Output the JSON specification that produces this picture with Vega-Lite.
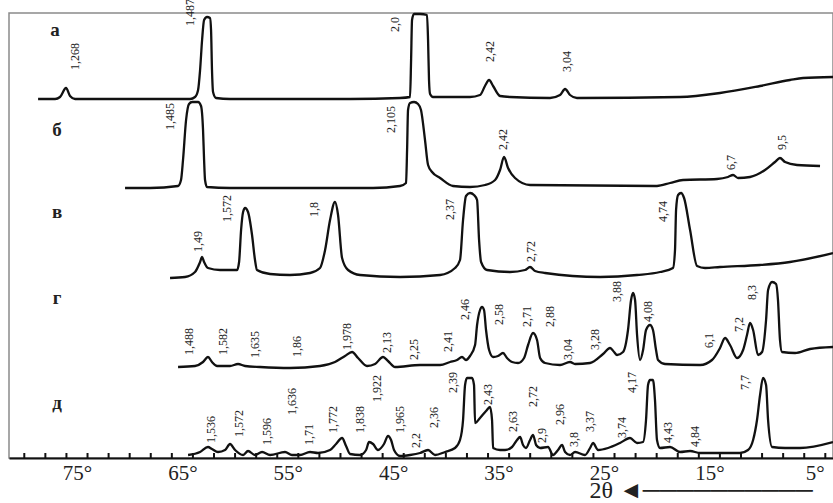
{
  "$schema": "https://vega.github.io/schema/vega-lite/v6.json",
  "width": 824,
  "height": 445,
  "autosize": {"type": "none"},
  "padding": {"left": 9, "top": 13, "right": 0, "bottom": 45},
  "background": "white",
  "config": {
    "view": {"stroke": "#8a8a8a", "strokeWidth": 1.5},
    "font": "Liberation Serif"
  },
  "datasets": {
    "traces": [
      {"s": "а", "t": 78.69, "i": 359}, {"s": "а", "t": 77.08, "i": 359}, {"s": "а", "t": 76.61, "i": 361},
      {"s": "а", "t": 76.04, "i": 370}, {"s": "а", "t": 75.66, "i": 362}, {"s": "а", "t": 75.18, "i": 359},
      {"s": "а", "t": 70.91, "i": 359}, {"s": "а", "t": 64.27, "i": 359}, {"s": "а", "t": 63.80, "i": 361},
      {"s": "а", "t": 63.51, "i": 368}, {"s": "а", "t": 63.32, "i": 388}, {"s": "а", "t": 63.13, "i": 418},
      {"s": "а", "t": 62.94, "i": 438}, {"s": "а", "t": 62.66, "i": 441}, {"s": "а", "t": 62.38, "i": 440},
      {"s": "а", "t": 62.28, "i": 428}, {"s": "а", "t": 62.19, "i": 388}, {"s": "а", "t": 62.09, "i": 366},
      {"s": "а", "t": 61.81, "i": 360}, {"s": "а", "t": 60.48, "i": 359}, {"s": "а", "t": 49.09, "i": 359},
      {"s": "а", "t": 44.35, "i": 360}, {"s": "а", "t": 43.40, "i": 361}, {"s": "а", "t": 43.30, "i": 398},
      {"s": "а", "t": 43.21, "i": 438}, {"s": "а", "t": 43.02, "i": 444}, {"s": "а", "t": 42.45, "i": 444},
      {"s": "а", "t": 41.79, "i": 443}, {"s": "а", "t": 41.69, "i": 418}, {"s": "а", "t": 41.60, "i": 378},
      {"s": "а", "t": 41.50, "i": 364}, {"s": "а", "t": 41.22, "i": 361}, {"s": "а", "t": 37.71, "i": 361},
      {"s": "а", "t": 36.76, "i": 363}, {"s": "а", "t": 36.29, "i": 372}, {"s": "а", "t": 35.90, "i": 378},
      {"s": "а", "t": 35.52, "i": 372}, {"s": "а", "t": 34.86, "i": 362}, {"s": "а", "t": 33.91, "i": 361},
      {"s": "а", "t": 30.12, "i": 360}, {"s": "а", "t": 29.17, "i": 363}, {"s": "а", "t": 28.69, "i": 369},
      {"s": "а", "t": 28.22, "i": 363}, {"s": "а", "t": 27.56, "i": 360}, {"s": "а", "t": 17.78, "i": 361},
      {"s": "а", "t": 13.99, "i": 365}, {"s": "а", "t": 10.19, "i": 372}, {"s": "а", "t": 7.35, "i": 378},
      {"s": "а", "t": 6.11, "i": 380}, {"s": "а", "t": 3.27, "i": 381},

      {"s": "б", "t": 70.44, "i": 270}, {"s": "б", "t": 68.07, "i": 270}, {"s": "б", "t": 65.41, "i": 272},
      {"s": "б", "t": 65.13, "i": 278}, {"s": "б", "t": 64.94, "i": 298}, {"s": "б", "t": 64.65, "i": 338},
      {"s": "б", "t": 64.37, "i": 354}, {"s": "б", "t": 64.08, "i": 356}, {"s": "б", "t": 63.51, "i": 356},
      {"s": "б", "t": 63.23, "i": 352}, {"s": "б", "t": 63.04, "i": 328}, {"s": "б", "t": 62.94, "i": 298},
      {"s": "б", "t": 62.85, "i": 278}, {"s": "б", "t": 62.66, "i": 271}, {"s": "б", "t": 60.48, "i": 270},
      {"s": "б", "t": 46.91, "i": 270}, {"s": "б", "t": 44.35, "i": 272}, {"s": "б", "t": 43.78, "i": 275},
      {"s": "б", "t": 43.68, "i": 308}, {"s": "б", "t": 43.59, "i": 348}, {"s": "б", "t": 43.40, "i": 355},
      {"s": "б", "t": 43.02, "i": 356}, {"s": "б", "t": 42.64, "i": 354}, {"s": "б", "t": 42.36, "i": 348},
      {"s": "б", "t": 41.98, "i": 318}, {"s": "б", "t": 41.69, "i": 293}, {"s": "б", "t": 41.31, "i": 286},
      {"s": "б", "t": 40.55, "i": 280}, {"s": "б", "t": 39.32, "i": 272}, {"s": "б", "t": 37.71, "i": 271},
      {"s": "б", "t": 36.28, "i": 273}, {"s": "б", "t": 35.33, "i": 278}, {"s": "б", "t": 34.86, "i": 288},
      {"s": "б", "t": 34.48, "i": 301}, {"s": "б", "t": 34.10, "i": 290}, {"s": "б", "t": 33.44, "i": 280},
      {"s": "б", "t": 32.01, "i": 273}, {"s": "б", "t": 19.97, "i": 272}, {"s": "б", "t": 18.73, "i": 275},
      {"s": "б", "t": 17.50, "i": 278}, {"s": "б", "t": 14.27, "i": 279}, {"s": "б", "t": 13.23, "i": 281},
      {"s": "б", "t": 12.75, "i": 283}, {"s": "б", "t": 12.28, "i": 280}, {"s": "б", "t": 11.14, "i": 281},
      {"s": "б", "t": 9.72, "i": 288}, {"s": "б", "t": 8.77, "i": 296}, {"s": "б", "t": 8.30, "i": 300},
      {"s": "б", "t": 7.82, "i": 296}, {"s": "б", "t": 6.68, "i": 293}, {"s": "б", "t": 4.50, "i": 292},

      {"s": "в", "t": 66.17, "i": 180}, {"s": "в", "t": 64.75, "i": 181}, {"s": "в", "t": 63.80, "i": 186},
      {"s": "в", "t": 63.32, "i": 196}, {"s": "в", "t": 63.13, "i": 201}, {"s": "в", "t": 62.94, "i": 196},
      {"s": "в", "t": 62.57, "i": 190}, {"s": "в", "t": 61.43, "i": 188}, {"s": "в", "t": 59.81, "i": 188},
      {"s": "в", "t": 59.62, "i": 196}, {"s": "в", "t": 59.43, "i": 228}, {"s": "в", "t": 59.24, "i": 246},
      {"s": "в", "t": 59.05, "i": 250}, {"s": "в", "t": 58.77, "i": 246}, {"s": "в", "t": 58.39, "i": 223},
      {"s": "в", "t": 58.11, "i": 198}, {"s": "в", "t": 57.92, "i": 188}, {"s": "в", "t": 56.68, "i": 184},
      {"s": "в", "t": 54.79, "i": 183}, {"s": "в", "t": 52.89, "i": 185}, {"s": "в", "t": 51.94, "i": 190},
      {"s": "в", "t": 51.46, "i": 208}, {"s": "в", "t": 50.99, "i": 238}, {"s": "в", "t": 50.52, "i": 256},
      {"s": "в", "t": 50.23, "i": 243}, {"s": "в", "t": 49.85, "i": 200}, {"s": "в", "t": 49.28, "i": 188},
      {"s": "в", "t": 48.14, "i": 183}, {"s": "в", "t": 44.35, "i": 181}, {"s": "в", "t": 40.55, "i": 183},
      {"s": "в", "t": 39.13, "i": 190}, {"s": "в", "t": 38.66, "i": 198}, {"s": "в", "t": 38.37, "i": 238},
      {"s": "в", "t": 38.09, "i": 262}, {"s": "в", "t": 37.71, "i": 265}, {"s": "в", "t": 37.33, "i": 263},
      {"s": "в", "t": 37.04, "i": 258}, {"s": "в", "t": 36.85, "i": 218}, {"s": "в", "t": 36.66, "i": 196},
      {"s": "в", "t": 36.09, "i": 188}, {"s": "в", "t": 33.91, "i": 186}, {"s": "в", "t": 32.49, "i": 188},
      {"s": "в", "t": 32.01, "i": 191}, {"s": "в", "t": 31.54, "i": 187}, {"s": "в", "t": 30.59, "i": 185},
      {"s": "в", "t": 25.37, "i": 181}, {"s": "в", "t": 21.86, "i": 183}, {"s": "в", "t": 19.68, "i": 186},
      {"s": "в", "t": 18.45, "i": 190}, {"s": "в", "t": 18.26, "i": 208}, {"s": "в", "t": 18.16, "i": 248},
      {"s": "в", "t": 17.97, "i": 263}, {"s": "в", "t": 17.69, "i": 265}, {"s": "в", "t": 17.40, "i": 260},
      {"s": "в", "t": 16.83, "i": 228}, {"s": "в", "t": 16.17, "i": 192}, {"s": "в", "t": 15.41, "i": 190},
      {"s": "в", "t": 13.99, "i": 191}, {"s": "в", "t": 10.19, "i": 193}, {"s": "в", "t": 7.35, "i": 196},
      {"s": "в", "t": 3.27, "i": 205},

      {"s": "г", "t": 65.41, "i": 91}, {"s": "г", "t": 63.80, "i": 92}, {"s": "г", "t": 63.04, "i": 96},
      {"s": "г", "t": 62.57, "i": 101}, {"s": "г", "t": 62.19, "i": 96}, {"s": "г", "t": 61.71, "i": 92},
      {"s": "г", "t": 60.48, "i": 92}, {"s": "г", "t": 59.72, "i": 94}, {"s": "г", "t": 59.05, "i": 92},
      {"s": "г", "t": 57.63, "i": 91}, {"s": "г", "t": 54.79, "i": 90}, {"s": "г", "t": 51.94, "i": 92},
      {"s": "г", "t": 50.52, "i": 96}, {"s": "г", "t": 49.57, "i": 102}, {"s": "г", "t": 48.90, "i": 106},
      {"s": "г", "t": 48.33, "i": 100}, {"s": "г", "t": 47.48, "i": 92}, {"s": "г", "t": 46.72, "i": 94},
      {"s": "г", "t": 45.96, "i": 101}, {"s": "г", "t": 45.49, "i": 97}, {"s": "г", "t": 44.82, "i": 91},
      {"s": "г", "t": 42.45, "i": 93}, {"s": "г", "t": 40.55, "i": 93}, {"s": "г", "t": 39.60, "i": 96},
      {"s": "г", "t": 38.94, "i": 98}, {"s": "г", "t": 38.47, "i": 101}, {"s": "г", "t": 38.09, "i": 98},
      {"s": "г", "t": 37.71, "i": 102}, {"s": "г", "t": 37.23, "i": 113}, {"s": "г", "t": 37.04, "i": 133},
      {"s": "г", "t": 36.76, "i": 148}, {"s": "г", "t": 36.57, "i": 151}, {"s": "г", "t": 36.38, "i": 148},
      {"s": "г", "t": 36.19, "i": 128}, {"s": "г", "t": 35.90, "i": 108}, {"s": "г", "t": 35.52, "i": 101},
      {"s": "г", "t": 35.05, "i": 102}, {"s": "г", "t": 34.58, "i": 105}, {"s": "г", "t": 34.20, "i": 100},
      {"s": "г", "t": 33.72, "i": 96}, {"s": "г", "t": 33.15, "i": 95}, {"s": "г", "t": 32.58, "i": 100},
      {"s": "г", "t": 32.20, "i": 113}, {"s": "г", "t": 31.73, "i": 125}, {"s": "г", "t": 31.35, "i": 118},
      {"s": "г", "t": 31.06, "i": 100}, {"s": "г", "t": 30.59, "i": 95}, {"s": "г", "t": 29.17, "i": 93},
      {"s": "г", "t": 28.22, "i": 96}, {"s": "г", "t": 27.74, "i": 94}, {"s": "г", "t": 26.32, "i": 95},
      {"s": "г", "t": 25.09, "i": 104}, {"s": "г", "t": 24.42, "i": 110}, {"s": "г", "t": 24.04, "i": 106},
      {"s": "г", "t": 23.76, "i": 103}, {"s": "г", "t": 23.19, "i": 106}, {"s": "г", "t": 22.72, "i": 128},
      {"s": "г", "t": 22.43, "i": 158}, {"s": "г", "t": 22.24, "i": 165}, {"s": "г", "t": 22.05, "i": 158},
      {"s": "г", "t": 21.86, "i": 123}, {"s": "г", "t": 21.58, "i": 98}, {"s": "г", "t": 21.29, "i": 108},
      {"s": "г", "t": 21.01, "i": 128}, {"s": "г", "t": 20.63, "i": 133}, {"s": "г", "t": 20.35, "i": 128},
      {"s": "г", "t": 20.06, "i": 108}, {"s": "г", "t": 19.87, "i": 98}, {"s": "г", "t": 19.21, "i": 94},
      {"s": "г", "t": 15.88, "i": 93}, {"s": "г", "t": 14.75, "i": 98}, {"s": "г", "t": 13.99, "i": 110},
      {"s": "г", "t": 13.51, "i": 120}, {"s": "г", "t": 13.04, "i": 113}, {"s": "г", "t": 12.37, "i": 100},
      {"s": "г", "t": 11.80, "i": 108}, {"s": "г", "t": 11.43, "i": 123}, {"s": "г", "t": 11.14, "i": 135},
      {"s": "г", "t": 10.85, "i": 128}, {"s": "г", "t": 10.38, "i": 103}, {"s": "г", "t": 10.00, "i": 106},
      {"s": "г", "t": 9.62, "i": 138}, {"s": "г", "t": 9.43, "i": 168}, {"s": "г", "t": 9.05, "i": 176},
      {"s": "г", "t": 8.67, "i": 174}, {"s": "г", "t": 8.49, "i": 158}, {"s": "г", "t": 8.30, "i": 118},
      {"s": "г", "t": 8.11, "i": 106}, {"s": "г", "t": 6.87, "i": 105}, {"s": "г", "t": 5.45, "i": 109},
      {"s": "г", "t": 3.27, "i": 111},

      {"s": "д", "t": 64.46, "i": 3}, {"s": "д", "t": 63.32, "i": 6}, {"s": "д", "t": 62.57, "i": 11},
      {"s": "д", "t": 62.19, "i": 9}, {"s": "д", "t": 61.62, "i": 6}, {"s": "д", "t": 60.95, "i": 8},
      {"s": "д", "t": 60.48, "i": 14}, {"s": "д", "t": 60.00, "i": 8}, {"s": "д", "t": 59.24, "i": 3},
      {"s": "д", "t": 58.77, "i": 7}, {"s": "д", "t": 58.11, "i": 3}, {"s": "д", "t": 57.44, "i": 6},
      {"s": "д", "t": 56.68, "i": 3}, {"s": "д", "t": 55.26, "i": 6}, {"s": "д", "t": 54.60, "i": 3},
      {"s": "д", "t": 53.84, "i": 3}, {"s": "д", "t": 52.89, "i": 6}, {"s": "д", "t": 52.13, "i": 5},
      {"s": "д", "t": 50.99, "i": 8}, {"s": "д", "t": 50.42, "i": 14}, {"s": "д", "t": 49.85, "i": 20},
      {"s": "д", "t": 49.47, "i": 12}, {"s": "д", "t": 49.09, "i": 4}, {"s": "д", "t": 48.14, "i": 3},
      {"s": "д", "t": 47.57, "i": 8}, {"s": "д", "t": 47.29, "i": 16}, {"s": "д", "t": 46.91, "i": 14},
      {"s": "д", "t": 46.44, "i": 8}, {"s": "д", "t": 45.87, "i": 14}, {"s": "д", "t": 45.49, "i": 22},
      {"s": "д", "t": 45.20, "i": 18}, {"s": "д", "t": 44.92, "i": 8}, {"s": "д", "t": 44.35, "i": 2},
      {"s": "д", "t": 43.40, "i": 3}, {"s": "д", "t": 42.45, "i": 5}, {"s": "д", "t": 41.69, "i": 8},
      {"s": "д", "t": 41.03, "i": 3}, {"s": "д", "t": 40.08, "i": 6}, {"s": "д", "t": 39.13, "i": 10},
      {"s": "д", "t": 38.66, "i": 18}, {"s": "д", "t": 38.37, "i": 38}, {"s": "д", "t": 38.18, "i": 73},
      {"s": "д", "t": 37.99, "i": 80}, {"s": "д", "t": 37.52, "i": 80}, {"s": "д", "t": 37.33, "i": 73},
      {"s": "д", "t": 37.23, "i": 35}, {"s": "д", "t": 36.76, "i": 40}, {"s": "д", "t": 36.19, "i": 47},
      {"s": "д", "t": 35.81, "i": 51}, {"s": "д", "t": 35.62, "i": 38}, {"s": "д", "t": 35.52, "i": 10},
      {"s": "д", "t": 34.86, "i": 8}, {"s": "д", "t": 34.39, "i": 8}, {"s": "д", "t": 33.72, "i": 11},
      {"s": "д", "t": 33.25, "i": 18}, {"s": "д", "t": 32.96, "i": 21}, {"s": "д", "t": 32.68, "i": 13},
      {"s": "д", "t": 32.40, "i": 10}, {"s": "д", "t": 32.01, "i": 18}, {"s": "д", "t": 31.73, "i": 23},
      {"s": "д", "t": 31.44, "i": 13}, {"s": "д", "t": 31.06, "i": 10}, {"s": "д", "t": 30.31, "i": 11},
      {"s": "д", "t": 29.83, "i": 3}, {"s": "д", "t": 29.36, "i": 8}, {"s": "д", "t": 28.98, "i": 13},
      {"s": "д", "t": 28.69, "i": 6}, {"s": "д", "t": 28.22, "i": 3}, {"s": "д", "t": 27.74, "i": 6},
      {"s": "д", "t": 26.80, "i": 3}, {"s": "д", "t": 26.32, "i": 10}, {"s": "д", "t": 26.04, "i": 15},
      {"s": "д", "t": 25.56, "i": 8}, {"s": "д", "t": 24.61, "i": 10}, {"s": "д", "t": 23.48, "i": 15},
      {"s": "д", "t": 22.53, "i": 20}, {"s": "д", "t": 21.86, "i": 15}, {"s": "д", "t": 21.29, "i": 16},
      {"s": "д", "t": 21.01, "i": 38}, {"s": "д", "t": 20.82, "i": 73}, {"s": "д", "t": 20.63, "i": 78},
      {"s": "д", "t": 20.35, "i": 78}, {"s": "д", "t": 20.16, "i": 58}, {"s": "д", "t": 19.97, "i": 18},
      {"s": "д", "t": 19.68, "i": 10}, {"s": "д", "t": 18.73, "i": 11}, {"s": "д", "t": 17.78, "i": 6},
      {"s": "д", "t": 16.83, "i": 7}, {"s": "д", "t": 15.88, "i": 5}, {"s": "д", "t": 12.09, "i": 5},
      {"s": "д", "t": 11.33, "i": 8}, {"s": "д", "t": 10.85, "i": 18}, {"s": "д", "t": 10.48, "i": 38},
      {"s": "д", "t": 10.19, "i": 63}, {"s": "д", "t": 9.91, "i": 80}, {"s": "д", "t": 9.62, "i": 73},
      {"s": "д", "t": 9.43, "i": 38}, {"s": "д", "t": 9.05, "i": 11}, {"s": "д", "t": 7.82, "i": 10},
      {"s": "д", "t": 6.40, "i": 10}, {"s": "д", "t": 3.27, "i": 16}
    ],
    "peaks": [
      {"s": "а", "d": "1,268", "t": 75.18, "i": 388}, {"s": "а", "d": "1,487", "t": 64.27, "i": 432},
      {"s": "а", "d": "2,0", "t": 44.82, "i": 426}, {"s": "а", "d": "2,42", "t": 35.81, "i": 396},
      {"s": "а", "d": "3,04", "t": 28.50, "i": 386},
      {"s": "б", "d": "1,485", "t": 66.17, "i": 328}, {"s": "б", "d": "2,105", "t": 45.20, "i": 325},
      {"s": "б", "d": "2,42", "t": 34.58, "i": 308}, {"s": "б", "d": "6,7", "t": 12.94, "i": 288},
      {"s": "б", "d": "9,5", "t": 8.10, "i": 308},
      {"s": "в", "d": "1,49", "t": 63.51, "i": 206}, {"s": "в", "d": "1,572", "t": 60.76, "i": 236},
      {"s": "в", "d": "1,8", "t": 52.51, "i": 241}, {"s": "в", "d": "2,37", "t": 39.60, "i": 238},
      {"s": "в", "d": "2,72", "t": 31.92, "i": 196}, {"s": "в", "d": "4,74", "t": 19.39, "i": 236},
      {"s": "г", "d": "1,488", "t": 64.37, "i": 103}, {"s": "г", "d": "1,582", "t": 61.14, "i": 103},
      {"s": "г", "d": "1,635", "t": 58.11, "i": 100}, {"s": "г", "d": "1,86", "t": 54.12, "i": 101},
      {"s": "г", "d": "1,978", "t": 49.38, "i": 108}, {"s": "г", "d": "2,13", "t": 45.58, "i": 105},
      {"s": "г", "d": "2,25", "t": 43.02, "i": 98}, {"s": "г", "d": "2,41", "t": 39.79, "i": 106},
      {"s": "г", "d": "2,46", "t": 38.18, "i": 138}, {"s": "г", "d": "2,58", "t": 34.96, "i": 133},
      {"s": "г", "d": "2,71", "t": 32.30, "i": 131}, {"s": "г", "d": "2,88", "t": 30.12, "i": 131},
      {"s": "г", "d": "3,04", "t": 28.41, "i": 98}, {"s": "г", "d": "3,28", "t": 25.85, "i": 108},
      {"s": "г", "d": "3,88", "t": 23.76, "i": 156}, {"s": "г", "d": "4,08", "t": 20.82, "i": 136},
      {"s": "г", "d": "6,1", "t": 15.03, "i": 110}, {"s": "г", "d": "7,2", "t": 12.18, "i": 126},
      {"s": "г", "d": "8,3", "t": 10.95, "i": 158},
      {"s": "д", "d": "1,536", "t": 62.28, "i": 15}, {"s": "д", "d": "1,572", "t": 59.62, "i": 21},
      {"s": "д", "d": "1,596", "t": 56.97, "i": 13}, {"s": "д", "d": "1,636", "t": 54.60, "i": 43},
      {"s": "д", "d": "1,71", "t": 52.98, "i": 13}, {"s": "д", "d": "1,772", "t": 50.70, "i": 25},
      {"s": "д", "d": "1,838", "t": 48.14, "i": 25}, {"s": "д", "d": "1,922", "t": 46.53, "i": 56},
      {"s": "д", "d": "1,965", "t": 44.35, "i": 25}, {"s": "д", "d": "2,2", "t": 42.83, "i": 10},
      {"s": "д", "d": "2,36", "t": 41.12, "i": 30}, {"s": "д", "d": "2,39", "t": 39.32, "i": 65},
      {"s": "д", "d": "2,43", "t": 36.00, "i": 53}, {"s": "д", "d": "2,63", "t": 33.63, "i": 26},
      {"s": "д", "d": "2,72", "t": 31.73, "i": 51}, {"s": "д", "d": "2,9", "t": 30.88, "i": 15},
      {"s": "д", "d": "2,96", "t": 29.17, "i": 33}, {"s": "д", "d": "3,8", "t": 27.84, "i": 11},
      {"s": "д", "d": "3,37", "t": 26.32, "i": 26}, {"s": "д", "d": "3,74", "t": 23.29, "i": 20},
      {"s": "д", "d": "4,17", "t": 22.34, "i": 65}, {"s": "д", "d": "4,43", "t": 18.92, "i": 15},
      {"s": "д", "d": "4,84", "t": 16.36, "i": 11}, {"s": "д", "d": "7,7", "t": 11.61, "i": 68}
    ],
    "names": [
      {"s": "а", "t": 77.08, "i": 428},
      {"s": "б", "t": 76.89, "i": 328},
      {"s": "в", "t": 76.89, "i": 246},
      {"s": "г", "t": 76.89, "i": 160},
      {"s": "д", "t": 76.89, "i": 55}
    ],
    "minorTicks": [
      {"t": 80, "i0": 0, "i1": 5}, {"t": 78, "i0": 0, "i1": 5}, {"t": 76, "i0": 0, "i1": 5}, {"t": 74, "i0": 0, "i1": 5},
      {"t": 72, "i0": 0, "i1": 5}, {"t": 70, "i0": 0, "i1": 5}, {"t": 68, "i0": 0, "i1": 5}, {"t": 66, "i0": 0, "i1": 5},
      {"t": 64, "i0": 0, "i1": 5}, {"t": 62, "i0": 0, "i1": 5}, {"t": 60, "i0": 0, "i1": 5}, {"t": 58, "i0": 0, "i1": 5},
      {"t": 56, "i0": 0, "i1": 5}, {"t": 54, "i0": 0, "i1": 5}, {"t": 52, "i0": 0, "i1": 5}, {"t": 50, "i0": 0, "i1": 5},
      {"t": 48, "i0": 0, "i1": 5}, {"t": 46, "i0": 0, "i1": 5}, {"t": 44, "i0": 0, "i1": 5}, {"t": 42, "i0": 0, "i1": 5},
      {"t": 40, "i0": 0, "i1": 5}, {"t": 38, "i0": 0, "i1": 5}, {"t": 36, "i0": 0, "i1": 5}, {"t": 34, "i0": 0, "i1": 5},
      {"t": 32, "i0": 0, "i1": 5}, {"t": 30, "i0": 0, "i1": 5}, {"t": 28, "i0": 0, "i1": 5}, {"t": 26, "i0": 0, "i1": 5},
      {"t": 24, "i0": 0, "i1": 5}, {"t": 22, "i0": 0, "i1": 5}, {"t": 20, "i0": 0, "i1": 5}, {"t": 18, "i0": 0, "i1": 5},
      {"t": 16, "i0": 0, "i1": 5}, {"t": 14, "i0": 0, "i1": 5}, {"t": 12, "i0": 0, "i1": 5}, {"t": 10, "i0": 0, "i1": 5},
      {"t": 8, "i0": 0, "i1": 5}, {"t": 6, "i0": 0, "i1": 5}, {"t": 4, "i0": 0, "i1": 5}
    ]
  },
  "layer": [
    {
      "data": {"name": "traces"},
      "mark": {"type": "line", "interpolate": "monotone", "color": "#111111", "strokeWidth": 2.3, "strokeJoin": "round"},
      "encoding": {
        "x": {
          "field": "t", "type": "quantitative",
          "scale": {"domain": [3.27, 81.45], "reverse": true, "nice": false, "zero": false},
          "axis": {
            "values": [75, 65, 55, 45, 35, 25, 15, 5],
            "labelExpr": "datum.value + '°'",
            "ticks": false,
            "domainColor": "#111111",
            "domainWidth": 2,
            "grid": false,
            "labelFont": "Liberation Serif",
            "labelFontSize": 21,
            "labelColor": "#222222",
            "labelPadding": 4,
            "labelOverlap": false,
            "labelFlush": false,
            "title": "2θ ◄──────────",
            "titleFont": "Liberation Serif",
            "titleFontSize": 24,
            "titleFontWeight": "normal",
            "titleColor": "#222222",
            "titleAnchor": "start",
            "titleAlign": "left",
            "titleBaseline": "alphabetic",
            "titleX": 580,
            "titleY": 39
          }
        },
        "y": {"field": "i", "type": "quantitative", "scale": {"domain": [0, 445], "nice": false, "zero": false}, "axis": null},
        "detail": {"field": "s"}
      }
    },
    {
      "data": {"name": "minorTicks"},
      "mark": {"type": "rule", "color": "#111111", "strokeWidth": 2},
      "encoding": {
        "x": {"field": "t", "type": "quantitative"},
        "y": {"field": "i0", "type": "quantitative"},
        "y2": {"field": "i1"}
      }
    },
    {
      "data": {"name": "peaks"},
      "mark": {"type": "text", "angle": 270, "align": "left", "baseline": "middle", "font": "Liberation Serif", "fontSize": 12, "color": "#222222"},
      "encoding": {
        "x": {"field": "t", "type": "quantitative"},
        "y": {"field": "i", "type": "quantitative"},
        "text": {"field": "d"}
      }
    },
    {
      "data": {"name": "names"},
      "mark": {"type": "text", "align": "center", "baseline": "middle", "font": "Liberation Serif", "fontSize": 19, "fontWeight": "bold", "color": "#222222"},
      "encoding": {
        "x": {"field": "t", "type": "quantitative"},
        "y": {"field": "i", "type": "quantitative"},
        "text": {"field": "s"}
      }
    }
  ]
}
